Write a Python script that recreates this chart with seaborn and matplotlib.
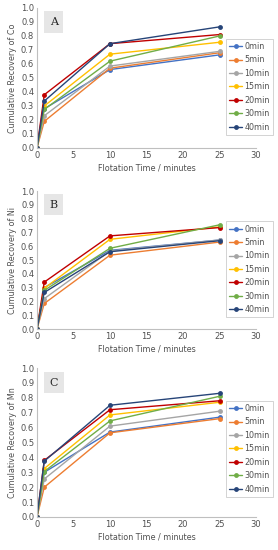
import pandas as pd
import seaborn as sns
import matplotlib.pyplot as plt

# flotation sampling times (minutes)
times = [0, 1, 10, 25]
conditions = ["0min", "5min", "10min", "15min", "20min", "30min", "40min"]

# cumulative recovery, one list per condition, in the order of `times`
co = {
    "0min": [0, 0.28, 0.56, 0.665],
    "5min": [0, 0.19, 0.57, 0.68],
    "10min": [0, 0.23, 0.585, 0.69],
    "15min": [0, 0.30, 0.67, 0.755],
    "20min": [0, 0.38, 0.745, 0.81],
    "30min": [0, 0.275, 0.62, 0.80],
    "40min": [0, 0.335, 0.745, 0.865],
}
ni = {
    "0min": [0, 0.30, 0.57, 0.645],
    "5min": [0, 0.185, 0.535, 0.63],
    "10min": [0, 0.22, 0.565, 0.645],
    "15min": [0, 0.295, 0.65, 0.74],
    "20min": [0, 0.34, 0.675, 0.735],
    "30min": [0, 0.28, 0.585, 0.755],
    "40min": [0, 0.265, 0.56, 0.64],
}
mn = {
    "0min": [0, 0.30, 0.57, 0.67],
    "5min": [0, 0.20, 0.565, 0.66],
    "10min": [0, 0.255, 0.61, 0.71],
    "15min": [0, 0.325, 0.685, 0.77],
    "20min": [0, 0.38, 0.72, 0.78],
    "30min": [0, 0.305, 0.645, 0.81],
    "40min": [0, 0.375, 0.75, 0.83],
}
panels = [("A", "Co", co), ("B", "Ni", ni), ("C", "Mn", mn)]

colors = ["#4472C4", "#ED7D31", "#A5A5A5", "#FFC000", "#C00000", "#70AD47", "#264478"]
palette = dict(zip(conditions, colors))


def to_long(series):
    rows = []
    for cond in conditions:
        for t, v in zip(times, series[cond]):
            rows.append({"time": t, "recovery": v, "condition": cond})
    return pd.DataFrame(rows)


sns.set_theme(style="white")
plt.rcParams["font.family"] = ["DejaVu Sans"]

fig = plt.figure(figsize=(2.78, 5.5), dpi=100)
boxes = [(0.9855, 0.731), (0.6527, 0.4018), (0.3309, 0.060)]

for (label, metal, series), (top, bottom) in zip(panels, boxes):
    ax = fig.add_axes([0.133, bottom, 0.788, top - bottom])
    df = to_long(series)
    sns.lineplot(data=df, x="time", y="recovery", hue="condition",
                 hue_order=conditions, palette=palette, marker="o",
                 markersize=3.5, markeredgewidth=0, linewidth=1.0, ax=ax)
    ax.set_xlim(0, 30)
    ax.set_ylim(0, 1.0)
    ax.set_xticks(range(0, 31, 5))
    ax.set_yticks([i / 10 for i in range(11)])
    ax.set_yticklabels([f"{i / 10:.1f}" for i in range(11)])
    ax.tick_params(labelsize=6, colors="#505050", length=0, pad=2)
    ax.set_xlabel("Flotation Time / minutes", fontsize=5.8, color="#505050", labelpad=3)
    ax.set_ylabel(f"Cumulative Recovery of {metal}", fontsize=5.8, color="#505050", labelpad=3)
    for side in ["top", "right"]:
        ax.spines[side].set_visible(False)
    for side in ["left", "bottom"]:
        ax.spines[side].set_color("#bfbfbf")
        ax.spines[side].set_linewidth(0.8)
    ax.text(2.3, 0.9, label, fontsize=8, family="serif", ha="center", va="center",
            bbox=dict(boxstyle="square,pad=0.5", facecolor="#e6e6e6", edgecolor="none"))
    leg = ax.legend(loc="upper left", bbox_to_anchor=(0.863, 0.78), fontsize=5.8,
                    frameon=True, fancybox=False, handlelength=1.6,
                    labelspacing=0.55, borderpad=0.4, handletextpad=0.3,
                    borderaxespad=0)
    leg.get_frame().set_edgecolor("#bfbfbf")
    leg.get_frame().set_linewidth(0.6)
    for txt in leg.get_texts():
        txt.set_color("#505050")

fig.savefig("out.png", dpi=100)
